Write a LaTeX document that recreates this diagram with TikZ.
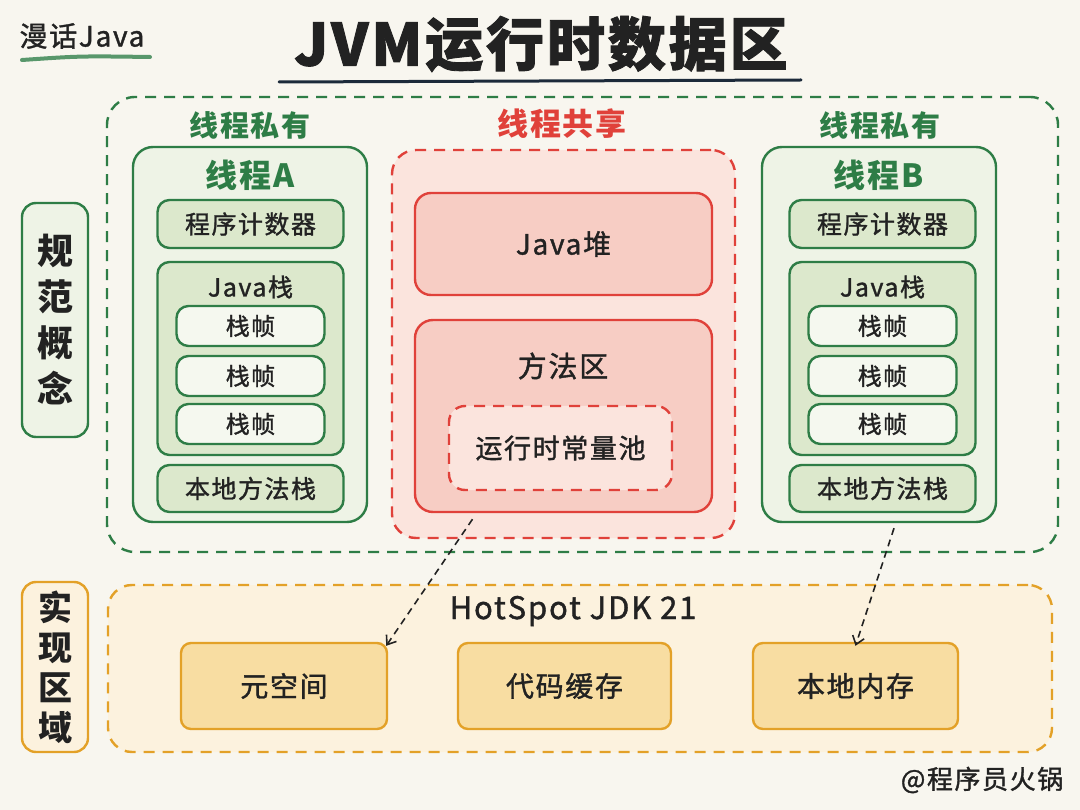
\documentclass[tikz,border=0pt]{standalone}
\usepackage{fontspec}
\setmainfont{Noto Sans CJK SC}
\newfontfamily\medfont{Noto Sans CJK SC}[LetterSpace=6, FakeBold=1.3]
\newfontfamily\headfont{Noto Sans CJK SC}[LetterSpace=6]
\newfontfamily\titlefont{Noto Sans CJK SC}[LetterSpace=5, FakeBold=1.5]
\usetikzlibrary{arrows.meta}
\definecolor{paper}{HTML}{F8F6EF}
\definecolor{jgreen}{HTML}{2E7D46}
\definecolor{jgfill}{HTML}{EEF3E6}
\definecolor{jgmid}{HTML}{DCE8CC}
\definecolor{jglight}{HTML}{F5F8EF}
\definecolor{jred}{HTML}{E0413A}
\definecolor{jrfill}{HTML}{FBE4DD}
\definecolor{jrmid}{HTML}{F7CDC4}
\definecolor{jorange}{HTML}{E3A128}
\definecolor{jofill}{HTML}{FCF2DE}
\definecolor{jomid}{HTML}{F8DDA2}
\definecolor{ink}{HTML}{222222}
\definecolor{navy}{HTML}{1C2A3A}
\newcommand{\fsz}[1]{\fontsize{#1}{#1}\selectfont}
\begin{document}
\begin{tikzpicture}[x=1pt, y=-1pt, line width=2.4pt, inner sep=0pt,
    box/.style={draw, rounded corners=12pt, text=ink, font=\medfont\fsz{25}},
    gbox/.style={box, draw=jgreen, fill=jgmid},
    rbox/.style={box, draw=jred, fill=jrmid},
    obox/.style={box, draw=jorange, fill=jomid, rounded corners=10pt, font=\medfont\fsz{28}},
    dashline/.style={dash pattern=on 11pt off 8pt},
    frame/.style={gbox, fill=jglight, minimum width=#1, minimum height=40pt, font=\medfont\fsz{24}},
    ttl/.style={font=\headfont\bfseries\fsz{29}}]
  \fill[paper] (0,0) rectangle (1080,810);
  \useasboundingbox (0,0) rectangle (1080,810);
  % heading
  \node[font=\medfont\fsz{28}, text=ink] (logo) at (82,36) {漫话Java};
  \draw[jgreen!80, line width=4pt, line cap=round] (22,60) .. controls (80,56) .. (150,57);
  \node[font=\titlefont\bfseries\fsz{58}, text=ink] (title) at (541,44) {JVM运行时数据区};
  \draw[navy, line width=3pt, line cap=round] (279,82) -- (801,80);
  % side labels
  \node[box, draw=jgreen, fill=jgfill, minimum width=66pt, minimum height=234pt,
    align=center, font=\bfseries\fsz{36}, rounded corners=14pt] (spec) at (55,320)
    {规\\[10pt]范\\[10pt]概\\[10pt]念};
  \node[box, draw=jorange, fill=jofill, minimum width=66pt, minimum height=170pt,
    align=center, font=\bfseries\fsz{34}, rounded corners=14pt] (impl) at (55,667)
    {实\\[6pt]现\\[6pt]区\\[6pt]域};
  % jvm spec
  \node[draw=jgreen, dashline, rounded corners=28pt, minimum width=951pt, minimum height=455pt] (spc) at (582.5,324.5) {};
  \node[ttl, text=jgreen] (pa) at (250,125) {线程私有};
  \node[ttl, text=jred, font=\headfont\bfseries\fsz{31}] (sh) at (562,124) {线程共享};
  \node[ttl, text=jgreen] (pb) at (880,125) {线程私有};
  \foreach \t/\cx/\fx in {A/250/250.5, B/879/882.5}{
    \node[draw=jgreen, fill=jgfill, rounded corners=20pt, minimum width=234pt, minimum height=375pt] (t\t) at (\cx,334.5) {};
    \node[ttl, text=jgreen, font=\headfont\bfseries\fsz{32}] (n\t) at (\cx,175) {线程\t};
    \node[gbox, minimum width=186pt, minimum height=48pt] (pc\t) at (\fx,224) {程序计数器};
    \node[gbox, minimum width=186pt, minimum height=193pt] (js\t) at (\fx,358.5) {};
    \node[font=\medfont\fsz{25}, text=ink] (jl\t) at (\fx,287) {Java栈};
    \foreach \i/\fy in {1/326,2/376,3/424}
      \node[frame=148pt] (f\t\i) at (\fx,\fy) {栈帧};
    \node[gbox, minimum width=186pt, minimum height=47pt] (ns\t) at (\fx,488.5) {本地方法栈};
  }
  \node[draw=jred, fill=jrfill, dashline, rounded corners=24pt, minimum width=343pt, minimum height=388pt] (shr) at (563.5,344) {};
  \node[rbox, minimum width=297pt, minimum height=102pt, rounded corners=16pt, font=\medfont\fsz{28}] (heap) at (563.5,244) {Java堆};
  \node[rbox, minimum width=297pt, minimum height=192pt, rounded corners=18pt] (mfa) at (563.5,416) {};
  \node[font=\medfont\fsz{29}, text=ink] (mfl) at (563,366) {方法区};
  \node[box, draw=jred, fill=jrfill, dashline, rounded corners=16pt, minimum width=223pt, minimum height=84pt, font=\medfont\fsz{27}] (rcp) at (560.5,448) {运行时常量池};
  % hotspot
  \node[draw=jorange, fill=jofill, dashline, rounded corners=24pt, minimum width=944pt, minimum height=167pt] (hs) at (580,668.5) {};
  \node[font=\medfont\fsz{31}, text=ink] (hsl) at (573,611) {HotSpot JDK 21};
  \node[obox, minimum width=206pt, minimum height=86pt] (meta) at (284,686) {元空间};
  \node[obox, minimum width=213pt, minimum height=86pt] (cc) at (564.5,686) {代码缓存};
  \node[obox, minimum width=205pt, minimum height=86pt] (nm) at (855.5,686) {本地内存};
  \draw[ink, line width=1.6pt, dash pattern=on 7pt off 5pt, -{Straight Barb[length=8pt,width=12pt]}]
    ([xshift=-91pt,yshift=-6pt]mfa.south) -- ([xshift=-2pt,yshift=-4pt]meta.north east);
  \draw[ink, line width=1.6pt, dash pattern=on 7pt off 5pt, -{Straight Barb[length=8pt,width=12pt]}]
    ([xshift=15pt,yshift=-5pt]tB.south) -- ([yshift=-4pt]nm.north);
  \node[font=\medfont\fsz{26}, text=ink] (author) at (982,780) {@程序员火锅};
\end{tikzpicture}
\end{document}
